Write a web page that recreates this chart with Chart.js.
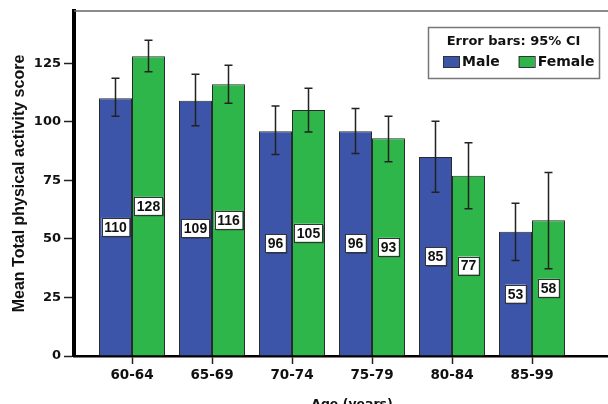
<!DOCTYPE html>
<html>
<head>
<meta charset="utf-8">
<script src="https://cdn.jsdelivr.net/npm/chart.js@4"></script>
<style>
  html, body { margin: 0; padding: 0; background: #fff; overflow: hidden; }
  #wrap { width: 608px; height: 404px; overflow: hidden; }
  canvas { display: block; }
</style>
</head>
<body>
<div id="wrap"><canvas id="chart" width="630" height="412"></canvas></div>
<script>
const ageGroups = ['60-64', '65-69', '70-74', '75-79', '80-84', '85-99'];
const maleMeans = [110, 109, 96, 96, 85, 53];
const femaleMeans = [128, 116, 105, 93, 77, 58];
// 95% CI bounds
const maleLower = [102.4, 98.3, 86.0, 86.5, 69.9, 40.8];
const maleUpper = [118.6, 120.3, 106.7, 105.7, 100.2, 65.2];
const femaleLower = [121.4, 107.9, 95.6, 82.9, 62.9, 37.2];
const femaleUpper = [134.8, 124.1, 114.3, 102.4, 91.0, 78.3];
const yTicks = [0, 25, 50, 75, 100, 125];

const BLUE = '#3d55a8';
const GREEN = '#2fb64a';
const boldFont = 'bold 13px "DejaVu Sans"';

// error bars drawn from the CI arrays through the y scale
const errorBars = {
    id: 'errorBars',
    afterDatasetsDraw(chart) {
        const ctx = chart.ctx;
        const y = chart.scales.y;
        ctx.save();
        ctx.strokeStyle = '#222';
        ctx.lineWidth = 1.5;
        chart.data.datasets.forEach((ds, i) => {
            chart.getDatasetMeta(i).data.forEach((bar, j) => {
                const top = y.getPixelForValue(ds.ciHigh[j]);
                const bot = y.getPixelForValue(ds.ciLow[j]);
                ctx.beginPath();
                ctx.moveTo(bar.x, top); ctx.lineTo(bar.x, bot);
                ctx.moveTo(bar.x - 4, top); ctx.lineTo(bar.x + 4, top);
                ctx.moveTo(bar.x - 4, bot); ctx.lineTo(bar.x + 4, bot);
                ctx.stroke();
            });
        });
        ctx.restore();
    }
};

// white value boxes at the middle of each bar
const valueLabels = {
    id: 'valueLabels',
    afterDatasetsDraw(chart) {
        const ctx = chart.ctx;
        ctx.save();
        ctx.font = 'bold 14px "Liberation Sans"';
        ctx.textAlign = 'center';
        ctx.textBaseline = 'middle';
        chart.data.datasets.forEach((ds, i) => {
            chart.getDatasetMeta(i).data.forEach((bar, j) => {
                const text = String(ds.data[j].y);
                const w = ctx.measureText(text).width + 5;
                const h = 18;
                const cx = bar.x;
                const cy = (bar.y + bar.base) / 2;
                ctx.fillStyle = 'rgba(0,0,0,0.35)';
                ctx.fillRect(cx - w / 2 + 1.5, cy - h / 2 + 1.5, w, h);
                ctx.fillStyle = '#fff';
                ctx.fillRect(cx - w / 2, cy - h / 2, w, h);
                ctx.strokeStyle = '#333';
                ctx.lineWidth = 1;
                ctx.strokeRect(Math.round(cx - w / 2) + 0.5, Math.round(cy - h / 2) + 0.5, Math.round(w), h);
                ctx.fillStyle = '#111';
                ctx.fillText(text, cx, cy + 1);
            });
        });
        ctx.restore();
    }
};

// top frame line + boxed legend
const frameAndLegend = {
    id: 'frameAndLegend',
    afterDraw(chart) {
        const ctx = chart.ctx;
        const area = chart.chartArea;
        ctx.save();
        ctx.strokeStyle = '#666';
        ctx.lineWidth = 1.5;
        ctx.beginPath();
        ctx.moveTo(area.left, area.top);
        ctx.lineTo(area.right, area.top);
        ctx.stroke();

        // legend box
        ctx.fillStyle = '#fff';
        ctx.fillRect(428, 27, 171, 51);
        ctx.strokeStyle = '#777';
        ctx.lineWidth = 1.5;
        ctx.strokeRect(428.5, 27.5, 171, 51);

        ctx.fillStyle = '#111';
        ctx.textBaseline = 'middle';
        ctx.textAlign = 'center';
        ctx.font = boldFont;
        ctx.fillText('Error bars: 95% CI', 513.5, 42);

        ctx.textAlign = 'left';
        ctx.font = 'bold 14px "DejaVu Sans"';
        let x = 443;
        chart.data.datasets.forEach(ds => {
            ctx.fillStyle = ds.backgroundColor;
            ctx.fillRect(x, 56, 16, 11);
            ctx.strokeStyle = '#333';
            ctx.lineWidth = 1;
            ctx.strokeRect(x + 0.5, 56.5, 16, 11);
            ctx.fillStyle = '#111';
            ctx.fillText(ds.label, x + 19, 62);
            x += 19 + ctx.measureText(ds.label).width + 19;
        });
        ctx.restore();
    }
};

new Chart(document.getElementById('chart'), {
    type: 'bar',
    data: {
        datasets: [
            {
                label: 'Male',
                data: maleMeans.map((v, i) => ({ x: i, y: v })),
                ciLow: maleLower,
                ciHigh: maleUpper,
                backgroundColor: BLUE,
                borderColor: '#2a2a2a',
                borderWidth: 1
            },
            {
                label: 'Female',
                data: femaleMeans.map((v, i) => ({ x: i, y: v })),
                ciLow: femaleLower,
                ciHigh: femaleUpper,
                backgroundColor: GREEN,
                borderColor: '#2a2a2a',
                borderWidth: 1
            }
        ]
    },
    options: {
        responsive: false,
        animation: false,
        barPercentage: 1,
        categoryPercentage: 0.825,
        layout: { padding: { top: 11, right: 0, left: 0, bottom: 0 } },
        plugins: {
            legend: { display: false },
            tooltip: { enabled: false }
        },
        scales: {
            x: {
                type: 'linear',
                min: -0.725,
                max: 6.225,
                offset: false,
                afterBuildTicks: s => { s.ticks = ageGroups.map((_, i) => ({ value: i })); },
                afterFit: s => { s.height = 56; },
                ticks: {
                    callback: v => ageGroups[v],
                    font: { family: 'DejaVu Sans', weight: 'bold', size: 13.5 },
                    color: '#111',
                    padding: 3,
                    maxRotation: 0
                },
                grid: {
                    offset: false,
                    drawOnChartArea: false,
                    drawTicks: true,
                    tickLength: 8,
                    tickColor: '#222',
                    tickWidth: 1.5
                },
                border: { color: '#000', width: 2.5 },
                title: {
                    display: true,
                    text: 'Age (years)',
                    font: { family: 'DejaVu Sans', weight: 'bold', size: 12.5 },
                    color: '#111',
                    padding: { top: 0, bottom: 0 }
                }
            },
            y: {
                min: 0,
                max: 147.3,
                afterBuildTicks: s => { s.ticks = yTicks.map(v => ({ value: v })); },
                afterFit: s => { s.width = 74; },
                ticks: {
                    font: { family: 'DejaVu Sans', weight: 'bold', size: 13 },
                    color: '#111',
                    padding: 3
                },
                grid: {
                    drawOnChartArea: false,
                    drawTicks: true,
                    tickLength: 10,
                    tickColor: '#222',
                    tickWidth: 1.5
                },
                border: { color: '#000', width: 4 },
                title: {
                    display: true,
                    text: 'Mean Total physical activity score',
                    font: { family: 'Liberation Sans', weight: 'bold', size: 16 },
                    color: '#111',
                    padding: { top: 10, bottom: 0 }
                }
            }
        }
    },
    plugins: [errorBars, valueLabels, frameAndLegend]
});
</script>
</body>
</html>
